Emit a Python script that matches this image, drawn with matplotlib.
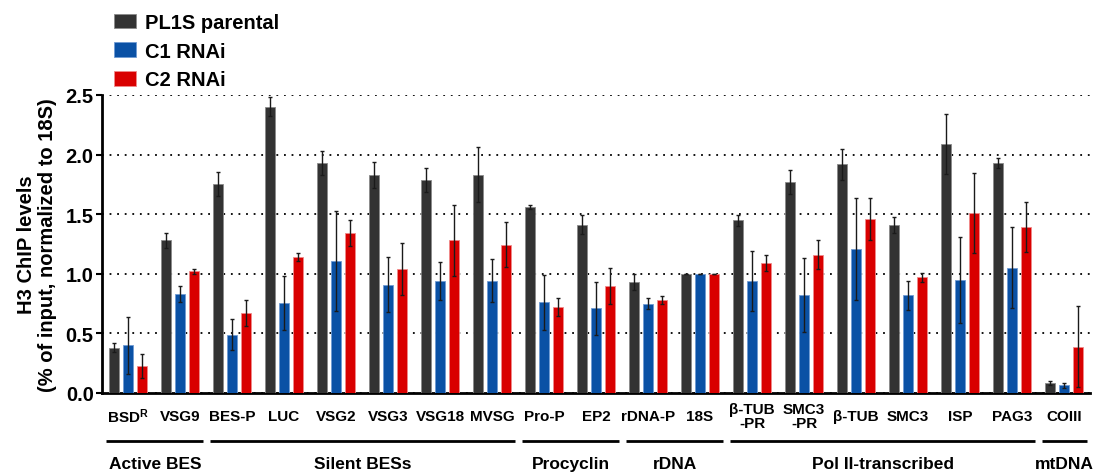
import numpy as np
import matplotlib
matplotlib.use("Agg")
import matplotlib.pyplot as plt
from matplotlib import font_manager
from matplotlib.patches import Patch
from matplotlib.transforms import blended_transform_factory

# Data
genes = ["BSD$^{R}$", "VSG9", "BES-P", "LUC", "VSG2", "VSG3", "VSG18", "MVSG",
         "Pro-P", "EP2", "rDNA-P", "18S", "\u03b2-TUB\n-PR", "SMC3\n-PR",
         "\u03b2-TUB", "SMC3", "ISP", "PAG3", "COIII"]

parental = [0.38, 1.28, 1.75, 2.40, 1.93, 1.83, 1.79, 1.83, 1.56, 1.41,
            0.93, 1.00, 1.45, 1.77, 1.92, 1.41, 2.09, 1.93, 0.08]
parental_err = [0.04, 0.06, 0.10, 0.08, 0.10, 0.11, 0.10, 0.23, 0.02, 0.08,
                0.07, 0.00, 0.045, 0.10, 0.13, 0.07, 0.25, 0.045, 0.017]
c1 = [0.40, 0.83, 0.49, 0.755, 1.11, 0.91, 0.94, 0.94, 0.76, 0.71,
      0.75, 1.00, 0.94, 0.825, 1.21, 0.82, 0.95, 1.05, 0.065]
c1_err = [0.24, 0.07, 0.13, 0.23, 0.42, 0.23, 0.16, 0.18, 0.23, 0.22,
          0.045, 0.00, 0.25, 0.31, 0.43, 0.12, 0.36, 0.34, 0.02]
c2 = [0.23, 1.02, 0.67, 1.14, 1.34, 1.04, 1.28, 1.245, 0.72, 0.90,
      0.78, 1.00, 1.09, 1.16, 1.46, 0.97, 1.51, 1.39, 0.39]
c2_err = [0.10, 0.02, 0.11, 0.035, 0.11, 0.22, 0.30, 0.19, 0.075, 0.15,
          0.036, 0.00, 0.065, 0.12, 0.175, 0.038, 0.335, 0.21, 0.34]

series_names = ["PL1S parental", "C1 RNAi", "C2 RNAi"]
colors = ["#333333", "#0a51a5", "#d90000"]
edge_colors = ["#8a8a8a", "#6f9bd3", "#f08a8a"]

# category groups: (label, first gene index, last gene index)
group_names = ["Active BES", "Silent BESs", "Procyclin", "rDNA", "Pol II-transcribed", "mtDNA"]
group_first = [0, 2, 8, 10, 12, 18]
group_last = [1, 7, 9, 11, 17, 18]


def pick_font(name, fallback):
    try:
        font_manager.findfont(font_manager.FontProperties(family=name), fallback_to_default=False)
        return name
    except Exception:
        return fallback


main_font = pick_font("Liberation Sans", "DejaVu Sans")
narrow_font = pick_font("Liberation Sans Narrow", main_font)
plt.rcParams["font.family"] = [main_font, "DejaVu Sans"]
plt.rcParams["font.weight"] = "bold"
plt.rcParams["mathtext.fontset"] = "custom"
plt.rcParams["mathtext.rm"] = narrow_font + ":bold"
plt.rcParams["mathtext.it"] = narrow_font + ":bold"
plt.rcParams["mathtext.default"] = "regular"

fig = plt.figure(figsize=(10.94, 4.77), dpi=100)
ax = fig.add_axes([102 / 1094, 83 / 477, 988 / 1094, 298 / 477])

x = np.arange(len(genes))
offset = 0.27
width = 0.2
all_vals = [parental, c1, c2]
all_errs = [parental_err, c1_err, c2_err]
for i in range(3):
    ax.bar(x + (i - 1) * offset, all_vals[i], width, color=colors[i],
           edgecolor=edge_colors[i], linewidth=0.6, zorder=3)
    ax.errorbar(x + (i - 1) * offset, all_vals[i], yerr=all_errs[i], fmt="none",
                ecolor="#1a1a1a", elinewidth=1.0, capsize=1.5, capthick=1.0, zorder=4)

ax.set_xlim(-0.5, 18.5)
ax.set_ylim(0, 2.5)
ax.set_yticks([0, 0.5, 1.0, 1.5, 2.0, 2.5])
ax.set_yticklabels(["%.1f" % v for v in [0, 0.5, 1.0, 1.5, 2.0, 2.5]],
                   fontsize=14.5, fontweight="bold")
ax.set_xticks([])
ax.tick_params(axis="y", length=4, width=1.5, pad=2)
ax.yaxis.grid(True, color="black", linestyle=(0, (1, 3.2)), linewidth=1.3)
ax.set_axisbelow(True)
for s in ["top", "right"]:
    ax.spines[s].set_visible(False)
for s in ["left", "bottom"]:
    ax.spines[s].set_linewidth(2)
ax.set_ylabel("H3 ChIP levels\n(% of input, normalized to 18S)", fontsize=14.5,
              fontweight="bold", labelpad=6, linespacing=1.15)

# gene labels under the axis
trans = blended_transform_factory(ax.transData, ax.transAxes)
for xi, lab in zip(x, genes):
    ax.text(xi, -0.077, lab, transform=trans, ha="center", va="center",
            fontsize=11, fontweight="bold", family=[narrow_font, "DejaVu Sans"],
            linespacing=0.95)

# group brackets and names
for name, a, b in zip(group_names, group_first, group_last):
    x0 = a - 0.42
    x1 = b + 0.45
    ax.plot([x0, x1], [-0.161, -0.161], transform=trans, color="black",
            linewidth=2, clip_on=False, solid_capstyle="butt")
    ax.text((x0 + x1) / 2, -0.238, name, transform=trans, ha="center", va="center",
            fontsize=12.5, fontweight="bold")

handles = [Patch(facecolor=colors[i], edgecolor=edge_colors[i], linewidth=0.6)
           for i in range(3)]
fig.legend(handles, series_names, loc="upper left", bbox_to_anchor=(100 / 1094, 1.0),
           frameon=False, prop={"weight": "bold", "size": 14.5},
           handlelength=1.1, handleheight=0.75, labelspacing=0.48, handletextpad=0.45,
           borderaxespad=0.3)

fig.savefig("out.png", dpi=100)
